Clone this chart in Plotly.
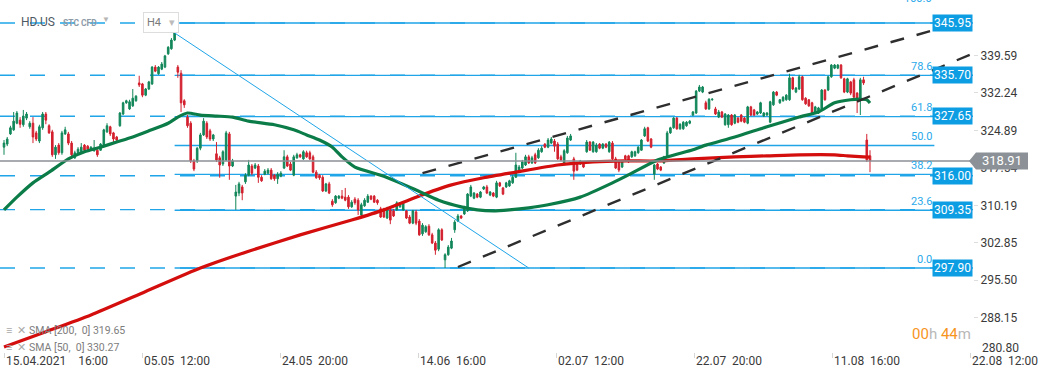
import plotly.graph_objects as go

# ---------------- data (H4 candles, HD.US) ----------------
open_ = [
    321.6,322.2,324.2,325.0,326.3,326.9,326.0,327.3,325.6,326.3,324.4,322.8,325.4,328.1,325.8,324.6,320.1,322.0,320.5,324.2,324.2,322.4,319.5,320.5,320.7,322.0,321.8,321.0,320.9,321.0,321.0,321.8,324.6,325.6,324.4,323.6,325.8,328.1,330.3,329.1,329.7,330.7,334.2,334.0,331.8,333.0,334.0,337.3,336.0,336.9,337.3,339.9,340.9,342.6,
    337.3,336.1,330.7,327.5,326.3,318.9,318.9,321.4,324.0,326.3,324.8,323.2,320.3,319.5,318.3,319.1,324.2,317.9,312.0,312.6,313.8,314.8,316.1,317.9,317.5,317.9,315.7,316.3,316.5,317.1,316.1,315.4,315.9,317.5,319.7,318.3,316.1,319.5,320.1,319.3,320.5,320.5,319.7,316.7,316.1,315.7,313.0,314.4,311.0,310.7,311.6,312.0,
    311.8,311.8,309.9,311.4,311.2,308.3,310.1,310.8,312.0,312.0,311.2,309.5,309.3,307.7,309.3,309.1,309.3,309.9,309.3,309.1,307.9,306.7,308.9,307.1,304.6,305.0,306.1,304.4,302.8,301.6,305.4,299.5,300.5,301.8,305.4,307.1,308.1,308.5,309.1,312.0,311.6,312.4,311.8,313.4,313.8,312.2,312.6,311.8,314.6,313.6,313.8,314.0,314.6,315.7,
    317.1,317.5,318.1,319.7,318.5,320.1,319.5,320.7,322.2,321.6,322.4,322.8,322.2,319.7,318.5,320.5,323.0,319.3,318.3,318.3,318.5,320.7,322.6,320.7,320.7,322.2,321.4,322.2,320.7,322.4,319.3,318.7,317.7,319.9,319.9,319.7,319.9,320.5,321.0,323.8,325.4,323.2,316.3,318.3,317.7,318.5,319.7,324.4,325.4,327.3,325.2,325.2,325.8,326.3,327.9,328.3,332.6,
    332.4,330.3,329.1,330.9,329.1,327.5,328.5,326.0,326.0,327.9,326.3,327.3,327.9,327.3,326.3,329.5,328.9,328.1,328.3,327.7,327.9,326.5,329.9,332.4,330.3,330.7,330.9,330.9,335.2,332.4,333.0,335.4,331.2,330.9,330.3,328.3,328.3,328.9,332.8,332.8,335.4,337.1,337.1,337.7,335.0,332.4,334.4,334.8,332.2,331.2,334.8,323.0,319.9,
]
high = [
    323.0,323.6,325.8,328.5,328.7,327.5,328.9,328.5,326.7,327.5,324.8,326.0,328.5,328.5,326.1,325.0,322.0,322.4,324.8,325.6,324.6,322.8,320.9,321.6,322.4,322.2,322.0,321.8,323.0,321.2,322.4,325.2,326.3,325.8,324.6,323.8,328.5,330.5,330.9,330.9,333.0,331.8,335.6,334.2,333.2,334.6,337.5,337.7,337.5,338.3,339.7,341.4,343.0,344.4,
    337.7,336.7,331.0,327.9,326.7,319.3,321.6,324.4,327.3,326.7,325.2,324.2,322.6,319.9,321.0,324.8,324.6,319.3,314.2,314.8,314.2,316.5,319.1,318.3,318.5,318.3,316.1,317.3,317.5,317.5,316.3,316.7,316.9,321.0,320.1,318.7,320.1,320.5,320.3,321.0,320.9,320.9,320.1,317.1,316.3,316.1,314.6,314.8,311.4,312.2,312.2,313.2,
    313.6,312.2,311.2,311.8,311.6,310.7,311.6,312.4,312.2,312.2,311.4,309.9,309.7,309.9,309.7,309.5,311.0,310.8,311.0,309.3,308.3,309.3,309.3,307.5,306.7,306.3,306.5,304.8,303.2,305.7,305.7,300.8,302.4,303.8,307.3,308.5,308.3,310.1,312.6,314.2,312.8,312.6,313.0,314.0,314.2,313.0,312.8,315.0,314.8,313.8,314.8,315.2,316.1,320.5,
    318.1,319.1,320.1,320.1,319.9,320.5,321.4,321.8,322.4,323.4,323.6,323.2,322.6,320.1,321.2,323.8,324.2,319.7,318.5,319.1,318.7,323.0,322.8,322.8,322.4,322.4,322.4,322.4,322.8,322.8,319.7,319.1,318.9,320.1,320.1,320.9,320.9,321.8,323.2,325.6,325.6,323.4,318.3,318.5,317.9,319.9,324.8,325.6,327.5,327.5,326.3,326.7,326.7,326.9,328.7,332.8,333.8,
    333.6,330.7,331.2,331.2,329.5,328.9,328.7,328.3,328.1,328.1,328.1,327.5,328.1,327.5,329.7,329.7,329.1,328.7,330.5,328.5,328.5,330.7,332.6,332.6,331.0,331.6,332.0,336.0,335.4,333.4,335.8,335.6,331.4,331.0,330.5,329.7,329.5,333.0,333.0,335.6,337.9,337.9,337.9,337.9,335.2,335.2,334.6,335.2,332.4,335.2,335.4,324.2,321.0,
]
low = [
    320.1,321.8,324.0,324.8,326.1,325.4,325.6,326.9,325.2,322.4,322.8,322.4,325.0,326.1,324.2,319.7,319.3,320.1,320.1,324.0,322.0,319.7,319.3,320.1,320.5,320.7,321.0,320.9,320.7,319.7,320.9,321.6,324.4,323.8,322.6,322.6,325.6,327.9,330.1,328.9,329.5,330.5,333.4,331.4,331.6,332.8,333.8,336.3,335.8,336.7,337.1,339.7,340.7,342.4,
    335.2,328.5,329.3,325.4,318.5,316.9,318.5,321.0,323.8,323.2,322.8,322.8,318.7,315.6,317.9,318.9,315.2,317.7,309.3,312.0,311.2,314.4,315.9,316.1,317.3,314.6,314.8,316.1,316.3,315.2,315.0,314.4,315.7,317.3,317.7,316.9,315.9,319.3,319.5,319.1,319.5,319.1,316.5,315.4,315.2,312.8,312.8,312.4,309.9,310.5,311.4,311.4,
    311.0,309.5,309.7,310.3,308.3,308.1,309.9,310.7,311.2,310.7,310.3,307.7,307.7,307.5,306.5,307.9,309.1,309.7,309.1,307.5,306.5,306.5,306.3,304.2,304.2,304.8,304.2,302.6,300.5,301.2,303.2,297.9,300.3,301.6,304.8,306.9,307.5,308.3,308.9,311.8,311.4,311.6,311.6,313.2,312.4,312.0,311.8,311.6,313.8,312.2,313.6,313.8,314.4,315.6,
    316.9,317.3,317.9,318.3,318.3,318.3,319.3,320.5,321.4,321.4,322.2,320.7,319.1,318.9,318.3,320.3,322.8,315.2,316.9,318.1,317.5,320.5,320.9,320.5,320.5,321.2,321.2,321.4,320.5,319.1,317.3,316.7,317.5,319.1,318.5,319.5,319.7,320.3,320.9,323.6,322.6,321.4,315.2,317.1,316.9,318.3,319.5,324.2,325.2,325.0,325.0,325.0,325.6,326.1,327.7,328.1,332.4,
    332.2,328.9,328.9,330.7,327.9,327.3,327.3,325.8,325.4,325.8,326.1,326.3,326.5,326.3,326.1,327.7,327.7,327.9,328.1,327.5,327.7,326.3,329.7,331.6,330.1,330.5,330.7,330.7,332.8,332.2,332.8,330.7,329.9,329.5,328.1,328.1,328.1,328.7,330.7,332.6,335.2,336.9,336.9,335.0,332.2,332.2,331.8,331.2,328.3,327.9,333.8,318.7,316.7,
]
close = [
    322.4,323.2,325.4,326.7,328.3,326.1,327.7,328.1,326.3,323.6,323.2,325.6,328.1,326.9,324.4,320.1,321.6,320.5,324.4,325.0,322.4,320.1,320.5,321.2,321.6,321.0,321.2,321.6,321.4,320.1,322.2,325.0,325.8,324.2,323.2,323.0,328.3,330.3,330.7,330.5,331.2,331.6,333.8,331.8,333.0,334.4,337.3,336.5,337.3,337.9,339.5,341.2,342.6,344.0,
    336.3,330.3,329.9,325.8,318.9,317.3,321.4,324.0,326.7,323.6,323.2,324.0,319.1,318.1,320.7,324.4,317.9,318.9,312.8,314.4,312.6,316.1,318.1,316.5,318.1,315.7,315.0,316.9,317.1,315.4,315.4,316.3,316.5,319.7,317.9,317.1,319.7,320.1,319.7,320.7,319.7,319.3,316.7,315.6,315.6,313.0,314.4,312.6,310.3,312.0,312.0,311.6,
    311.2,309.9,310.8,310.7,309.3,310.3,311.2,312.0,311.4,310.8,310.7,307.9,307.9,309.5,307.3,308.1,310.7,310.7,310.7,307.7,306.7,309.1,306.7,304.4,306.3,306.0,304.4,302.8,301.4,305.4,303.4,300.5,302.0,303.2,306.9,308.1,307.7,309.7,312.4,313.8,312.6,311.8,312.8,313.8,312.6,312.8,312.0,314.6,314.0,312.4,314.6,315.0,315.7,318.1,
    317.7,318.7,319.7,318.5,319.5,318.5,321.0,321.4,321.6,323.0,323.2,321.8,319.3,319.1,320.9,323.4,323.8,316.9,317.1,318.9,317.7,322.6,321.0,322.6,322.0,321.4,322.2,321.6,322.6,319.3,317.5,317.1,318.7,319.3,318.7,320.7,320.7,321.6,323.0,325.2,322.8,321.6,318.1,317.3,317.1,319.7,324.4,325.4,327.3,325.2,326.1,326.5,326.5,326.7,328.5,332.6,333.4,
    333.4,329.1,331.0,331.0,328.1,328.5,327.5,328.1,327.9,326.0,327.9,326.5,326.7,326.5,329.5,327.9,327.9,328.5,330.3,328.3,328.3,330.5,332.4,331.8,330.9,331.4,331.8,335.2,333.0,333.2,335.4,330.9,330.1,329.7,328.3,329.5,329.3,332.8,330.9,335.4,337.7,337.7,337.7,335.2,332.4,335.0,332.2,331.4,331.2,334.8,334.2,319.1,318.91,
]

# moving averages (sampled at candle indices)
sma200_idx = [0, 13, 27, 44, 61, 76, 92, 108, 118, 128, 139, 149, 159, 172, 183, 193, 203, 214, 227, 237, 247, 258, 262, 267, 269]
sma200_val = [282.4, 285.4, 288.7, 293.3, 297.9, 301.2, 304.4, 307.3, 309.3, 311.8, 314.2, 315.6, 316.7, 318.1, 318.7, 318.9,
              318.9, 319.3, 319.7, 319.9, 320.1, 320.1, 319.9, 319.7, 319.65]
sma50_idx = [0, 4, 9, 14, 20, 25, 30, 35, 40, 45, 51, 54, 57, 61, 66, 71, 76, 84, 90, 94, 98, 102, 105, 109, 118, 128, 135,
             142, 147, 152, 157, 163, 169, 179, 189, 195, 203, 214, 218, 227, 237, 247, 253, 258, 263, 266, 268, 269]
sma50_val = [309.3, 311.8, 314.6, 316.7, 319.3, 320.7, 321.6, 322.6, 323.6, 324.8, 326.3, 327.5, 328.3, 327.9, 327.7, 327.5,
             326.7, 326.0, 325.0, 324.0, 323.0, 321.6, 319.7, 317.7, 315.9, 313.2, 311.2, 309.9, 309.3, 309.1, 309.3, 309.7,
             310.3, 311.8, 314.6, 316.5, 319.1, 321.1, 322.0, 323.6, 325.6, 327.5, 328.5, 330.3, 330.9, 331.0, 330.9, 330.27]

# drawing tools
hline_prices = [345.95, 335.70, 327.65, 316.00, 309.35, 297.90]
fib_labels = ["100.0", "78.6", "61.8", "50.0", "38.2", "23.6", "0.0"]
fib_prices = [345.95, 335.67, 327.59, 321.93, 316.26, 309.24, 297.90]
fib_end_idx = 289
diag_line = [53, 344.0, 163, 297.9]
channel_upper = [130, 316.5, 288, 344.4]
channel_lower = [141, 298.1, 300, 339.7]

ytick_vals = [339.59, 332.24, 324.89, 317.54, 310.19, 302.85, 295.50, 288.15]
xtick_labels = ["15.04.2021", "05.05", "24.05", "14.06", "02.07", "22.07", "11.08", "22.08"]
xtick_times = ["16:00", "12:00", "20:00", "16:00", "12:00", "20:00", "16:00", "12:00"]

sma_legend = ["SMA [200,&nbsp;&nbsp;0] 319.65", "SMA [50,&nbsp;&nbsp;0] 330.27"]

# ---------------- layout geometry ----------------
N = len(close)
assert len(open_) == N and len(high) == N and len(low) == N, (len(open_), len(high), len(low), N)

W, H = 1041, 379
PR, PB = 973, 352                 # plot area right / bottom (px)
dx = 866.0 / (N - 1)               # px per candle
x_lo, x_hi = -4.0 / dx, (PR - 4.0) / dx
y_hi, y_lo = 350.46, 281.43
tick_idx = [k * 138.0 / dx for k in range(len(xtick_labels))]

def px_x(p):
    return p / PR

def px_y(p):
    return (PB - p) / PB

def price_y(v):
    return (v - y_lo) / (y_hi - y_lo)

CYAN = "#1fa5e8"
BOX = "#0c9de3"
GREEN = "#12875a"
RED = "#d3202e"
FONT = "Roboto, Arial, sans-serif"

fig = go.Figure()
fig.add_trace(go.Candlestick(
    x=list(range(N)), open=open_, high=high, low=low, close=close,
    increasing=dict(line=dict(color=GREEN, width=1), fillcolor=GREEN),
    decreasing=dict(line=dict(color=RED, width=1), fillcolor=RED),
    whiskerwidth=0, hoverinfo="skip", showlegend=False))
fig.add_trace(go.Scatter(x=sma200_idx, y=sma200_val, mode="lines",
                         line=dict(color="#d40d0d", width=3.2, shape="spline", smoothing=0.6),
                         hoverinfo="skip", showlegend=False))
fig.add_trace(go.Scatter(x=sma50_idx, y=sma50_val, mode="lines",
                         line=dict(color="#0b7c48", width=3.2, shape="spline", smoothing=0.6),
                         hoverinfo="skip", showlegend=False))

shapes = []
for p in hline_prices:
    shapes.append(dict(type="line", xref="paper", x0=0, x1=1, yref="y", y0=p, y1=p,
                       line=dict(color=CYAN, width=1.4, dash="15px,15px"), layer="below"))
peak = 53
for p in fib_prices:
    shapes.append(dict(type="line", xref="x", x0=peak, x1=fib_end_idx, yref="y", y0=p, y1=p,
                       line=dict(color=CYAN, width=1.4), layer="below"))
shapes.append(dict(type="line", xref="x", yref="y", x0=diag_line[0], y0=diag_line[1],
                   x1=diag_line[2], y1=diag_line[3], line=dict(color=CYAN, width=1)))
for ch in (channel_upper, channel_lower):
    shapes.append(dict(type="line", xref="x", yref="y", x0=ch[0], y0=ch[1], x1=ch[2], y1=ch[3],
                       line=dict(color="#2e2e2e", width=2.4, dash="14px,13px")))
last = close[-1]
shapes.append(dict(type="line", xref="paper", x0=0, x1=1, yref="y", y0=last, y1=last,
                   line=dict(color="#8b9196", width=1.5)))
yc = price_y(last)
hh = 8.5 / PB
tag = (f"M {px_x(969)},{yc} L {px_x(976)},{yc + hh} L {px_x(1028)},{yc + hh} "
       f"L {px_x(1028)},{yc - hh} L {px_x(976)},{yc - hh} Z")
shapes.append(dict(type="path", xref="paper", yref="paper", path=tag,
                   fillcolor="#8b9196", line=dict(width=0), layer="above"))

ann = []
def A(**kw):
    kw.setdefault("showarrow", False)
    kw.setdefault("xanchor", "center")
    kw.setdefault("yanchor", "middle")
    ann.append(kw)

# price label boxes
for p in hline_prices:
    A(xref="paper", x=1.0, xanchor="right", yref="y", y=p, text=f"{p:.2f}", bgcolor=BOX, borderpad=1,
      font=dict(family=FONT, size=12, color="white"))
# fib texts
for lab, p in zip(fib_labels, fib_prices):
    A(xref="x", x=fib_end_idx, xanchor="right", yref="y", y=p, yshift=(25 if lab == "100.0" else 9),
      text=lab, font=dict(family=FONT, size=11, color="#2aa9ea"))
# current price tag text
A(xref="paper", x=px_x(1002), yref="paper", y=yc, text=f"{last:.2f}",
  font=dict(family=FONT, size=13, color="white"))
# x labels
for k, (ti, d, t) in enumerate(zip(tick_idx, xtick_labels, xtick_times)):
    gap = "&nbsp;" * (4 if k == 0 else 2)
    A(xref="x", x=ti, xanchor="left", yref="paper", y=px_y(361),
      text=f"{d}{gap}{t}", font=dict(family=FONT, size=12, color="#3a3a3a"))
# bottom y label
A(xref="paper", x=px_x(980), xanchor="left", yref="paper", y=px_y(348), text="280.80",
  font=dict(family=FONT, size=12, color="#3a3a3a"))
# header
A(xref="paper", x=px_x(19), xanchor="left", yref="paper", y=px_y(22), text="HD.US",
  font=dict(family=FONT, size=12, color="#4d5964"))
A(xref="paper", x=px_x(61), xanchor="left", yref="paper", y=px_y(23), text="<b>STC CFD</b>",
  font=dict(family=FONT, size=8.5, color="#8d9aa7"))
A(xref="paper", x=px_x(100), xanchor="left", yref="paper", y=px_y(20), text="▼",
  font=dict(family=FONT, size=8, color="#b5b5b5"))
A(xref="paper", x=px_x(161), yref="paper", y=px_y(22),
  text="H4&nbsp;&nbsp;&nbsp;<span style='color:#bbbbbb'>▾</span>",
  bgcolor="white", bordercolor="#dddddd", borderwidth=1, borderpad=3,
  font=dict(family=FONT, size=11, color="#7a7a7a"))
# SMA legend
for i, txt in enumerate(sma_legend):
    A(xref="paper", x=px_x(4), xanchor="left", yref="paper", y=px_y(330 + 17 * i),
      text="<span style='color:#a9a9a9'>≡&nbsp;&nbsp;✕</span> " + txt,
      font=dict(family=FONT, size=10.5, color="#7d7d7d"))
# countdown
A(xref="paper", x=px_x(973), xanchor="right", yref="paper", y=px_y(334),
  text="<span style='color:#f7941d'>00</span><span style='color:#b8b8b8'>h</span> "
       "<span style='color:#f7941d'>44</span><span style='color:#b8b8b8'>m</span>",
  font=dict(family=FONT, size=15))

fig.update_layout(
    width=W, height=H,
    margin=dict(l=0, r=W - PR, t=0, b=H - PB, autoexpand=False),
    paper_bgcolor="white", plot_bgcolor="white",
    shapes=shapes, annotations=ann, showlegend=False,
    xaxis=dict(range=[x_lo, x_hi], showgrid=False, zeroline=False, showline=False, automargin=False,
               tickvals=tick_idx, showticklabels=False, ticks="outside", ticklen=5,
               tickcolor="#d6d6d6", rangeslider=dict(visible=False), fixedrange=True),
    yaxis=dict(range=[y_lo, y_hi], side="right", showgrid=False, zeroline=False, showline=False,
               automargin=False,
               tickvals=ytick_vals, ticktext=[f"{v:.2f}" for v in ytick_vals],
               ticks="outside", ticklen=4, tickcolor="#dddddd",
               tickfont=dict(family=FONT, size=12, color="#3a3a3a"), fixedrange=True),
)

fig.write_html("out.html", config={"displayModeBar": False},
               post_script="document.body.style.margin='0px';document.body.style.overflow='hidden';")
